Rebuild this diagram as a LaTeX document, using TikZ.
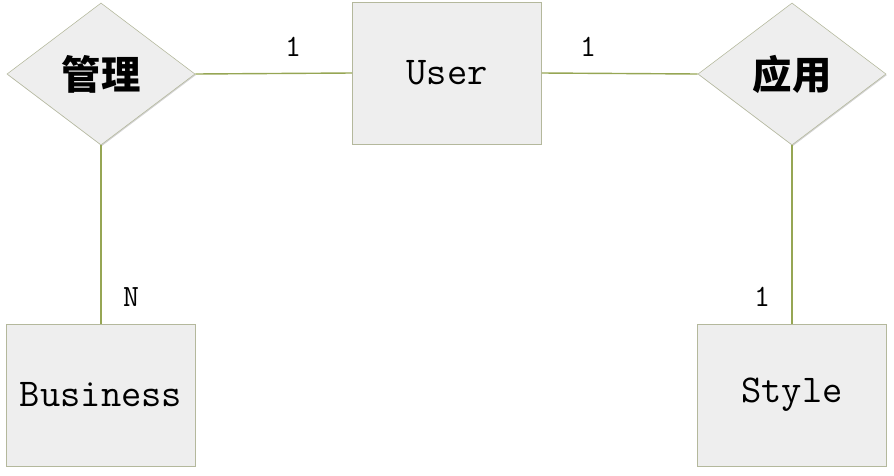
\documentclass[tikz,border=0pt]{standalone}
\usepackage{fontspec}
\newfontfamily\cjk{Noto Sans CJK SC}
\usetikzlibrary{shapes.geometric,shadows,positioning}
\definecolor{boxfill}{RGB}{238,238,238}
\definecolor{boxline}{RGB}{180,184,156}
\definecolor{linkcol}{RGB}{150,166,84}
\tikzset{entity/.style={rectangle, draw=boxline, fill=boxfill, minimum width=4.725cm, minimum height=3.55cm, inner sep=0pt, font=\ttfamily\fontsize{28}{28}\selectfont, drop shadow={shadow xshift=0.6pt, shadow yshift=-0.8pt, opacity=0.35}},
    relation/.style={diamond, draw=boxline, fill=boxfill, minimum width=4.7cm, minimum height=3.55cm, inner sep=0pt, font=\cjk\bfseries\fontsize{28}{28}\selectfont, drop shadow={shadow xshift=0.6pt, shadow yshift=-0.8pt, opacity=0.35}},
    link/.style={draw=linkcol, line width=1pt},
    card/.style={font=\ttfamily\fontsize{22}{22}\selectfont, inner sep=0pt}}

\begin{document}
\begin{tikzpicture}[x=0.025cm, y=-0.025cm]
    \useasboundingbox (0,0) rectangle (894,475);
    \node[entity] (User) at (447,73) {User};
    \node[relation] (Manage) at (101,74) {管理};
    \node[relation] (Apply) at (792,74) {应用};
    \node[entity] (Business) at (101,395) {Business};
    \node[entity] (Style) at (792,395) {Style};
    \path[link] (Manage.east) -- (User.west);
    \path[link] (User.east) -- (Apply.west);
    \path[link] (Manage.south) -- (Business.north);
    \path[link] (Apply.south) -- (Style.north);
    \node[card] (c1) at (293,47) {1};
    \node[card] (c2) at (588,47) {1};
    \node[card] (c3) at (131,297) {N};
    \node[card] (c4) at (762,297) {1};
\end{tikzpicture}
\end{document}
